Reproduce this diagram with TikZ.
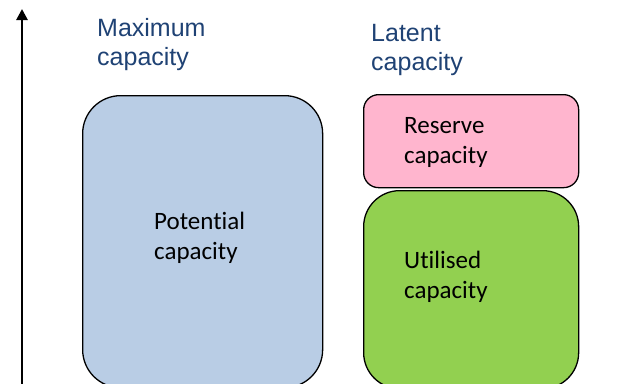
\documentclass[tikz,border=0pt]{standalone}
\usepackage{fontspec}
\setmainfont{Liberation Sans}
\newfontfamily\boxfont[Ligatures=NoCommon]{Carlito}
\usetikzlibrary{arrows.meta, positioning}
\definecolor{captitle}{HTML}{1F4274}
\definecolor{capblue}{HTML}{B9CDE5}
\definecolor{cappink}{HTML}{FFB5CE}
\definecolor{capgreen}{HTML}{92D050}

\begin{document}
\begin{tikzpicture}[
  x=1pt, y=-1pt,
  capbox/.style={rectangle, draw=black, fill=#1, line width=1.3pt, anchor=north west},
  titlelabel/.style={font=\fontsize{25}{28.5}\selectfont, text=captitle, align=left, anchor=base west, inner sep=0pt},
  boxlabel/.style={font=\boxfont\fontsize{25}{30}\selectfont, text=black, align=left, anchor=base west, inner sep=0pt},
]
\useasboundingbox (0,0) rectangle (618,383);

% Axis
\coordinate (axisbottom) at (22,395);
\coordinate (axistop) at (22,9);
\draw[-{Triangle[length=11pt,width=11pt]}, line width=2.6pt] (axisbottom) -- (axistop);

% Titles (anchored at last baseline)
\node[titlelabel] (maxtitle) at (97,65) {Maximum\\capacity};
\node[titlelabel] (lattitle) at (371,70) {Latent\\capacity};

% Boxes
\node[capbox=capblue, rounded corners=38pt, minimum width=240pt, minimum height=292pt] (potential) at (82,95) {};
\node[capbox=cappink, rounded corners=15pt, minimum width=215pt, minimum height=93pt] (reserve) at (363,94) {};
\node[capbox=capgreen, rounded corners=36pt, minimum width=215pt, minimum height=198pt] (utilised) at (363,190) {};

% Box texts
\node[boxlabel] (potentialtext) at (154,259) {Potential\\capacity};
\node[boxlabel] (reservetext) at (404,163) {Reserve\\capacity};
\node[boxlabel] (utilisedtext) at (404,298) {Utilised\\capacity};

\end{tikzpicture}
\end{document}
